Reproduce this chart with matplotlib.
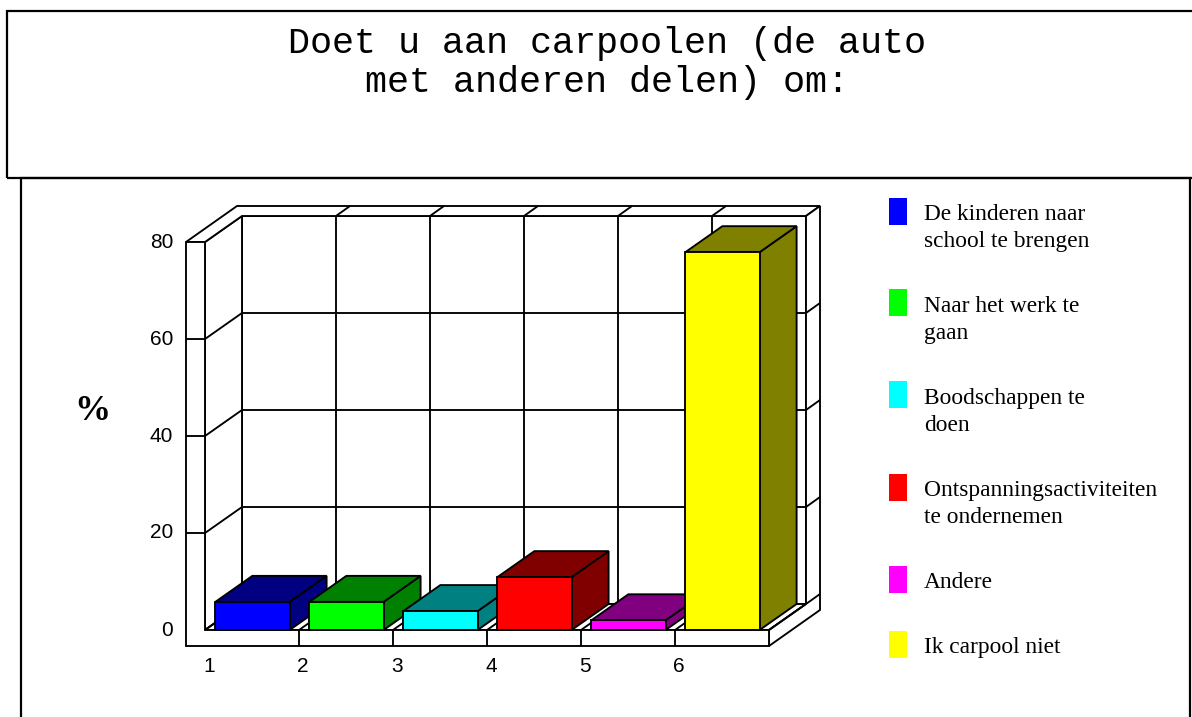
import matplotlib
matplotlib.use("Agg")
import matplotlib.pyplot as plt
from matplotlib.patches import Polygon, Rectangle

# survey answers (percent)
categories = ["1", "2", "3", "4", "5", "6"]
values = [5.8, 5.8, 3.9, 10.9, 2.0, 77.9]
labels = [
    "De kinderen naar\nschool te brengen",
    "Naar het werk te\ngaan",
    "Boodschappen te\ndoen",
    "Ontspanningsactiviteiten\nte ondernemen",
    "Andere",
    "Ik carpool niet",
]
front_colors = ["#0000ff", "#00ff00", "#00ffff", "#ff0000", "#ff00ff", "#ffff00"]
shade_colors = ["#000080", "#008000", "#008080", "#800000", "#800080", "#808000"]
y_ticks = [0, 20, 40, 60, 80]
title_lines = ["Doet u aan carpoolen (de auto", "met anderen delen) om:"]

W, H = 1192, 717
fig = plt.figure(figsize=(W / 100, H / 100), dpi=100)


def fx(px):
    return px / W


def fy(py):
    return 1 - py / H


# chart axes: one category = 94 px, one percent = 4.85 px
x_unit, y_unit = 94.0, 4.85
x0_px, y0_px = 205.0, 630.0
ax = fig.add_axes([0, 0, 1, 1])
ax.axis("off")

n = len(categories)
ymax = y_ticks[-1]
DX, DY = 37 / x_unit, 26 / y_unit        # depth of floor / bars
DX2, DY2 = 51 / x_unit, 36 / y_unit      # depth incl. back wall thickness
LW = 19 / x_unit                          # left wall thickness
FT = 16 / y_unit                          # floor thickness
lw = 1.35


def poly(pts, fc="white", z=1):
    ax.add_patch(Polygon(pts, closed=True, facecolor=fc, edgecolor="black",
                         lw=lw, joinstyle="miter", zorder=z))


def seg(p, q, z=2):
    ax.plot([p[0], q[0]], [p[1], q[1]], color="black", lw=lw, zorder=z,
            solid_capstyle="butt")


# back wall with grid
poly([(DX, DY), (n + DX, DY), (n + DX, ymax + DY), (DX, ymax + DY)], z=1)
for k in range(n + 1):
    seg((k + DX, DY), (k + DX, ymax + DY))
for v in y_ticks:
    seg((DX, v + DY), (n + DX, v + DY))

# left wall inner face
poly([(0, 0), (0, ymax), (DX, ymax + DY), (DX, DY)], z=3)
for v in y_ticks[1:-1]:
    seg((0, v), (DX, v + DY), z=4)

# floor top face
poly([(0, 0), (n, 0), (n + DX, DY), (DX, DY)], z=3)
for k in range(n + 1):
    seg((k, 0), (k + DX, DY), z=4)

# top of the frame
poly([(-LW, ymax), (-LW + DX2, ymax + DY2), (n + DX2, ymax + DY2),
      (n + DX, ymax + DY), (DX, ymax + DY), (0, ymax)], z=3)
for k in range(1, n):
    seg((k + DX, ymax + DY), (k + DX2, ymax + DY2), z=4)

# right side of the frame
poly([(n, 0), (n, -FT), (n + DX2, -FT + DY2), (n + DX2, ymax + DY2),
      (n + DX, ymax + DY), (n + DX, DY)], z=3)
for v in y_ticks[:-1]:
    seg((n + DX, v + DY), (n + DX2, v + DY2), z=4)

# front: left wall + floor edge
poly([(-LW, ymax), (0, ymax), (0, 0), (n, 0), (n, -FT), (-LW, -FT)], z=5)
for k in range(1, n):
    seg((k, -FT), (k, 0), z=6)
for v in y_ticks[1:-1]:
    seg((-LW, v), (0, v), z=6)

# bars
for i, (val, fc, sc) in enumerate(zip(values, front_colors, shade_colors)):
    x1, x2 = i + 0.11, i + 0.90
    z = 10 + i
    poly([(x2, 0), (x2 + DX, DY), (x2 + DX, val + DY), (x2, val)], fc=sc, z=z)
    poly([(x1, val), (x1 + DX, val + DY), (x2 + DX, val + DY), (x2, val)], fc=sc, z=z)
    poly([(x1, 0), (x2, 0), (x2, val), (x1, val)], fc=fc, z=z)

# tick labels
for v in y_ticks:
    ax.text(-0.34, v, str(v), ha="right", va="center", fontsize=15,
            family="Liberation Sans", zorder=20)
for k, c in enumerate(categories):
    ax.text(k + 0.045, -7.6, c, ha="center", va="center", fontsize=15,
            family="Liberation Sans", zorder=20)
ax.text(-1.2, 45, "%", ha="center", va="center", fontsize=26,
        family="Liberation Serif", fontweight="bold", zorder=20)

ax.set_xlim(-x0_px / x_unit, (W - x0_px) / x_unit)
ax.set_ylim((y0_px - H) / y_unit, y0_px / y_unit)

# title box and chart box
fig.add_artist(Rectangle((fx(7), fy(178)), fx(1200) - fx(7), fy(11) - fy(178),
                         transform=fig.transFigure, fill=False, lw=1.6,
                         edgecolor="black"))
fig.add_artist(Rectangle((fx(21), fy(730)), fx(1190) - fx(21), fy(178) - fy(730),
                         transform=fig.transFigure, fill=False, lw=1.6,
                         edgecolor="black"))
for j, line in enumerate(title_lines):
    fig.text(fx(607), fy(53 + 39 * j), line, ha="center", va="baseline",
             fontsize=26.5, family="Liberation Mono")

# legend
yc = 211
for lab, fc in zip(labels, front_colors):
    fig.add_artist(Rectangle((fx(889), fy(yc + 13.5)), 18 / W, 27 / H,
                             transform=fig.transFigure, facecolor=fc,
                             edgecolor="none"))
    lines = lab.split("\n")
    for j, line in enumerate(lines):
        fig.text(fx(924), fy(yc + 9 + 27 * j), line, ha="left", va="baseline",
                 fontsize=16.8, family="Liberation Serif")
    yc += 27 * len(lines) + 38

fig.savefig("out.png", dpi=100)
